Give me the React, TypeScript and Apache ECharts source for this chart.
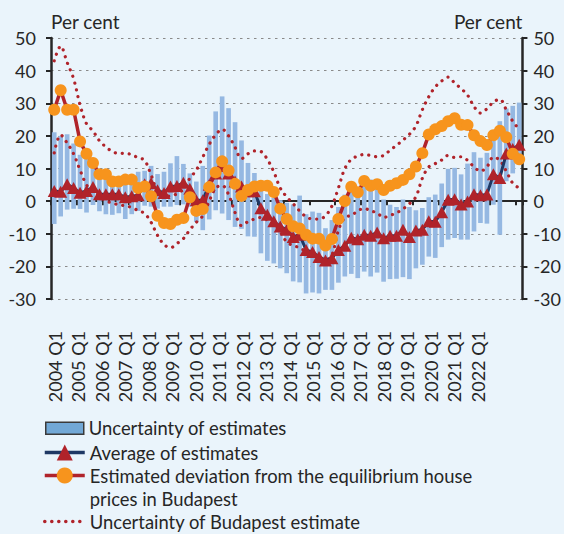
import React, { useEffect, useRef } from "react";
import * as echarts from "echarts";

// ---------- data ----------
const yearLabels = [
  "2004 Q1", "2005 Q1", "2006 Q1", "2007 Q1", "2008 Q1", "2009 Q1", "2010 Q1",
  "2011 Q1", "2012 Q1", "2013 Q1", "2014 Q1", "2015 Q1", "2016 Q1", "2017 Q1",
  "2018 Q1", "2019 Q1", "2020 Q1", "2021 Q1", "2022 Q1",
];

const quarters: string[] = [];
for (let y = 2004; y <= 2022; y++) {
  for (let q = 1; q <= 4; q++) {
    if (y === 2022 && q > 1) break;
    quarters.push(`${y} Q${q}`);
  }
}

// Estimated deviation from the equilibrium house prices in Budapest
const budapest = [
  28, 34, 28, 28, 18.3, 14.5, 11.7, 8.2, 8.2, 6,
  6, 6.6, 6.6, 4, 4.5, 1.5, -4.5, -6.7, -7, -5.7,
  -5.2, 1.2, -3, -2.4, 4.3, 8.8, 12.2, 9.4, 5.3, 1.6,
  3.4, 4.5, 4.7, 4.7, 2.8, -2.3, -5.5, -7.7, -8.4, -10.3,
  -11.5, -11.5, -13.6, -11.6, -5.5, 0, 4.4, 2.7, 6.2, 4.7,
  5.2, 3.4, 4.7, 5.5, 6.5, 8.2, 10.6, 14.7, 20.4, 22,
  23, 24.5, 25.4, 23.4, 23.3, 20.2, 18.4, 17.2, 20.2, 21.6,
  19.6, 14.5, 12.8,
];

// Average of estimates
const average = [
  3.1, 2.9, 5.2, 4, 2.6, 3.1, 4.3, 2.1, 2.1, 2.1,
  2.1, 1.2, 1.5, 1.8, 5.2, 5.5, 3.3, 2.5, 4.5, 4.6,
  5.6, 3.8, 0.3, 0.3, 5, 8.5, 10.8, 8.5, 6, 4.5,
  3, 3, -2.2, -4.2, -6.2, -7.8, -8.8, -11, -10.3, -15,
  -15.6, -17.1, -18.2, -17.5, -15, -13.7, -11.2, -11.7, -10.3, -10.6,
  -9.6, -11.4, -10.6, -10.6, -8.8, -11, -9, -8.8, -6.2, -6.3,
  -3.4, 0.4, 0.6, -1, -0.1, 2.1, 1.8, 2, 8.2, 7.1,
  14.6, 16, 17.3,
];

// Uncertainty of estimates (range of the estimates)
const barHigh = [
  21.1, 20, 20.5, 17.7, 14.2, 13.6, 12.8, 9.5, 8, 7.5,
  7.5, 7.3, 7.5, 9, 9.3, 10.8, 8.3, 9, 11.6, 13.8,
  11.4, 8.5, 6, 10.8, 20.1, 27.5, 32.1, 28.5, 24.2, 18.6,
  11.7, 8.6, 4, 2.2, 1, 0.3, -0.5, -1, 1.7, -4,
  -3.2, -3.6, -8.3, -5.8, -1.8, 2, 3.5, 4.1, 5.1, 6.6,
  6.1, 0.5, -1.1, -1.8, 0.5, -1.8, -2.8, -2.1, 1.2, 2,
  5.4, 9.9, 10.2, 8.2, 11.5, 15, 13.3, 14.8, 21, 24.5,
  28.4, 29.2, 30.2,
];
const barLow = [
  -7, -4.7, -2.6, -2.3, -2.4, -3.5, -1.2, -3.1, -4, -4.2,
  -3.7, -5.5, -4, -3, -1.4, -1.7, -2.3, -1.7, -1.7, -1.2,
  -1, -1.7, -6.4, -8.9, -5.6, -2.8, -3.8, -5.8, -7.9, -8.5,
  -10.8, -10.9, -16, -18.3, -19.1, -20.6, -22.1, -24.6, -24.9, -28.3,
  -28, -28.3, -27.2, -27.2, -25, -23.1, -22.3, -23.6, -21.6, -23.1,
  -21.9, -24.7, -23.9, -23.8, -23.3, -23.9, -20.6, -19.5, -17, -17.4,
  -14.1, -11.8, -11.3, -11.8, -11.8, -9.3, -6.7, -6.9, -1.1, -10.3,
  6.1, 8.5, 11.7,
];

// Uncertainty of Budapest estimate (upper / lower bounds)
const upperBand = [
  43, 47.5, 42.5, 37.5, 29.5, 23.7, 21.5, 18.5, 16.6, 15.2,
  14.6, 14.7, 14.2, 13.3, 12.5, 8, 3, 1.7, 1.5, 2.3,
  3.7, 7, 9.5, 13.5, 17.4, 20.3, 22, 20, 16.5, 13,
  14.5, 15.4, 15.2, 12.8, 9, 4, 1.3, -0.8, -3, -4.8,
  -5.5, -5.5, -4.5, -1.5, 4, 10, 12.8, 13.8, 14.3, 14,
  13.6, 14, 15.6, 17.1, 18.7, 20.5, 23, 28, 32, 35,
  36.8, 38, 36.2, 34.5, 32.5, 29, 27, 28.3, 30.4, 31.2,
  28, 24.5, 22,
];
const lowerBand = [
  14.8, 20.3, 17.8, 14.5, 9.5, 5, 2.8, 1.7, 0, -0.5,
  -1.2, -1.4, -2, -2.9, -3.8, -6.5, -10.5, -13.3, -14.3, -13,
  -11.5, -8.8, -6.5, -4.5, 0, 4, 4.8, 2, -3.5, -7.5,
  -6.3, -5.5, -5, -5.8, -7, -9.5, -12.5, -13.6, -14.3, -15.5,
  -16.5, -17, -18, -16.5, -9, -5, -4.4, -3, -2.2, -3,
  -3.6, -5, -4.4, -3.6, -2.4, -0.8, 1.3, 7, 10.5, 11.5,
  12.6, 14, 13.4, 13.6, 12.5, 10.5, 9.2, 10.5, 13.5, 12.5,
  9.2, 5.5, 4,
];

const yMin = -30;
const yMax = 50;
const yStep = 10;

// ---------- styling ----------
const FONT = "Lato";
const TEXT = "#262626";
const AXIS = "#262626";
const RED = "#B0232A";
const NAVY = "#1F3864";
const ORANGE = "#F7941D";
const BAR = "#95B8E2";
const LEGEND_FONT = 18.4;

const NAME_BARS = "Uncertainty of estimates";
const NAME_AVG = "Average of estimates";
const NAME_BUD = "Estimated deviation from the equilibrium house prices in Budapest";
const NAME_BUD_2 = "prices in Budapest";
const NAME_BAND = "Uncertainty of Budapest estimate";

function buildOption() {
  const barSpan = barHigh.map((h, i) => +(h - barLow[i]).toFixed(2));
  const dotted = {
    color: RED,
    width: 3.2,
    type: [0.1, 6.9],
    cap: "round",
  };
  return {
    animation: false,
    backgroundColor: "#EAF4FB",
    textStyle: { fontFamily: FONT, color: TEXT },
    grid: [
      { left: 51, right: 40, top: 38, bottom: 235 },
      { left: 55, right: 86.5, top: 38, bottom: 235 },
    ],
    legend: [
      {
        orient: "vertical",
        left: 45,
        top: 417.3,
        padding: 0,
        itemWidth: 38,
        itemHeight: 12,
        selectedMode: false,
        textStyle: { fontFamily: FONT, fontSize: LEGEND_FONT, lineHeight: 22, color: TEXT },
        data: [
          {
            name: NAME_BARS,
            icon: "rect",
            itemStyle: { color: "#72A8D6", borderColor: "#3a3a3a", borderWidth: 1.5 },
          },
        ],
      },
      {
        orient: "vertical",
        left: 43,
        top: 441.5,
        padding: 0,
        itemWidth: 40,
        itemHeight: 20,
        itemGap: 1,
        selectedMode: false,
        lineStyle: { width: 3.5 },
        textStyle: { fontFamily: FONT, fontSize: LEGEND_FONT, lineHeight: 22, color: TEXT },
        formatter: (name: string) =>
          name === NAME_BUD ? "Estimated deviation from the equilibrium house" : name,
        data: [
          { name: NAME_AVG },
          { name: NAME_BUD },
          { name: NAME_BUD_2, icon: "none" },
          { name: NAME_BAND, itemStyle: { color: "rgba(0,0,0,0)", borderWidth: 0 } },
        ],
      },
    ],
    xAxis: [
      {
        type: "category",
        gridIndex: 0,
        data: quarters,
        boundaryGap: true,
        axisLine: { show: true, onZero: true, lineStyle: { color: AXIS, width: 2 } },
        axisTick: { show: true, interval: 3, length: 4, lineStyle: { color: AXIS, width: 2 } },
        axisLabel: { show: false },
        splitLine: { show: false },
      },
      {
        type: "category",
        gridIndex: 1,
        data: yearLabels,
        boundaryGap: false,
        axisLine: { show: false },
        axisTick: { show: false },
        splitLine: { show: false },
        axisLabel: {
          interval: 0,
          rotate: 90,
          margin: 32,
          fontSize: 18,
          fontFamily: FONT,
          color: TEXT,
        },
      },
    ],
    yAxis: [
      {
        type: "value",
        gridIndex: 0,
        position: "left",
        min: yMin,
        max: yMax,
        interval: yStep,
        name: "Per cent",
        nameLocation: "end",
        nameGap: 17,
        nameTextStyle: { align: "left", verticalAlign: "middle", fontSize: 19, color: TEXT, fontFamily: FONT },
        axisLine: { show: true, lineStyle: { color: AXIS, width: 2.5 } },
        axisTick: { show: true, inside: false, length: 5, lineStyle: { color: AXIS, width: 2 } },
        axisLabel: { margin: 15, fontSize: 18, color: TEXT, fontFamily: FONT },
        splitLine: { show: true, lineStyle: { color: "#8a8a8a", width: 1.2, type: [2.5, 4.5] } },
      },
      {
        type: "value",
        gridIndex: 0,
        position: "right",
        min: yMin,
        max: yMax,
        interval: yStep,
        name: "Per cent",
        nameLocation: "end",
        nameGap: 17,
        nameTextStyle: { align: "right", verticalAlign: "middle", fontSize: 19, color: TEXT, fontFamily: FONT },
        axisLine: { show: true, lineStyle: { color: AXIS, width: 2.5 } },
        axisTick: { show: true, inside: false, length: 5, lineStyle: { color: AXIS, width: 2 } },
        axisLabel: { margin: 11, fontSize: 18, color: TEXT, fontFamily: FONT },
        splitLine: { show: false },
      },
      { type: "value", gridIndex: 1, show: false, min: 0, max: 1 },
    ],
    series: [
      {
        name: "uncertainty-base",
        type: "bar",
        xAxisIndex: 0,
        yAxisIndex: 0,
        stack: "unc",
        stackStrategy: "all",
        barWidth: "72%",
        data: barLow,
        silent: true,
        itemStyle: { color: "rgba(0,0,0,0)" },
        emphasis: { disabled: true },
      },
      {
        name: NAME_BARS,
        type: "bar",
        xAxisIndex: 0,
        yAxisIndex: 0,
        stack: "unc",
        stackStrategy: "all",
        barWidth: "72%",
        data: barSpan,
        itemStyle: { color: BAR },
        emphasis: { disabled: true },
      },
      {
        name: NAME_BAND,
        type: "line",
        xAxisIndex: 0,
        yAxisIndex: 0,
        data: upperBand,
        symbol: "none",
        smooth: 0.35,
        lineStyle: dotted,
        itemStyle: { color: RED },
        emphasis: { disabled: true },
      },
      {
        name: NAME_BAND,
        type: "line",
        xAxisIndex: 0,
        yAxisIndex: 0,
        data: lowerBand,
        symbol: "none",
        smooth: 0.35,
        lineStyle: dotted,
        itemStyle: { color: RED },
        emphasis: { disabled: true },
      },
      {
        name: NAME_AVG,
        type: "line",
        xAxisIndex: 0,
        yAxisIndex: 0,
        data: average,
        symbol: "triangle",
        symbolSize: [13, 12],
        showSymbol: true,
        showAllSymbol: true,
        lineStyle: { color: NAVY, width: 3 },
        itemStyle: { color: RED, borderWidth: 0 },
        emphasis: { disabled: true },
      },
      {
        name: NAME_BUD,
        type: "line",
        xAxisIndex: 0,
        yAxisIndex: 0,
        data: budapest,
        symbol: "circle",
        symbolSize: 12,
        showSymbol: true,
        showAllSymbol: true,
        lineStyle: { color: RED, width: 3.5 },
        itemStyle: { color: ORANGE, borderWidth: 0 },
        emphasis: { disabled: true },
      },
      {
        name: NAME_BUD_2,
        type: "line",
        xAxisIndex: 0,
        yAxisIndex: 0,
        data: [],
        symbol: "none",
        lineStyle: { color: RED, width: 0 },
      },
    ],
  };
}

export default function App() {
  const ref = useRef<HTMLDivElement>(null);
  useEffect(() => {
    if (!ref.current) return;
    const chart = echarts.init(ref.current, null, { renderer: "svg" });
    chart.setOption(buildOption() as any);
    return () => {
      chart.dispose();
    };
  }, []);
  return (
    <div
      ref={ref}
      style={{ position: "fixed", left: 0, top: 0, width: 564, height: 534 }}
    />
  );
}
